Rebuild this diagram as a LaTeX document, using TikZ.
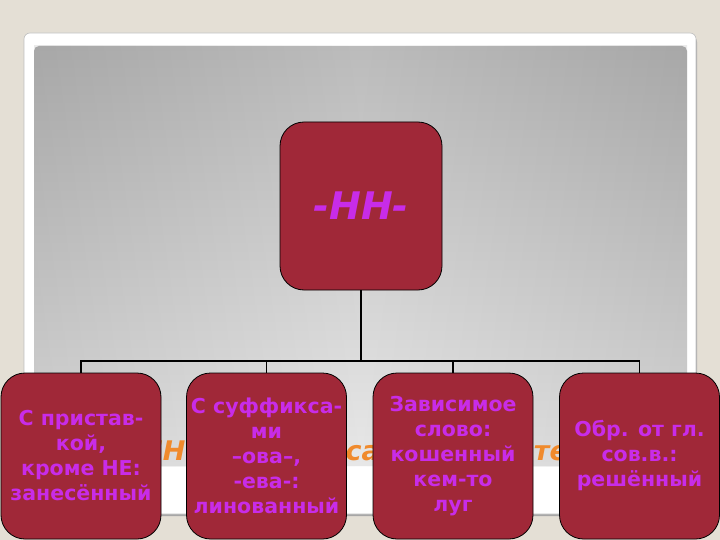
\documentclass[tikz,border=0pt]{standalone}
\usepackage{fontspec}
\setmainfont{DejaVu Sans}
\usetikzlibrary{positioning}
\definecolor{beige}{HTML}{E4DFD5}
\definecolor{maroon}{HTML}{A02838}
\definecolor{magtext}{HTML}{C82CE8}
\definecolor{ttlorange}{HTML}{F08A2C}
\definecolor{panelTop}{HTML}{B6B6B6}
\definecolor{panelBot}{HTML}{E6E6E6}
\tikzset{
  box/.style={draw=black, line width=0.8pt, fill=maroon, rounded corners=24pt,
    minimum width=160pt, minimum height=166pt, inner sep=0pt,
    text=magtext, align=center, font=\bfseries\fontsize{20.5}{25}\selectfont},
  topbox/.style={box, minimum width=162pt, minimum height=168pt,
    font=\bfseries\itshape\fontsize{38}{40}\selectfont},
  conn/.style={draw=black, line width=1.8pt},
}
\begin{document}
\begin{tikzpicture}[x=1pt,y=-1pt]
\useasboundingbox (0,0) rectangle (720,540);
% background
\fill[beige] (0,0) rectangle (720,540);
\fill[black!35] (25,36) [rounded corners=6pt] rectangle (697,516);
\fill[white, draw=black!25, line width=0.6pt] (24,33) [rounded corners=6pt] rectangle (696,514);
\shade[top color=panelTop, bottom color=panelBot] (34,466) [rounded corners=5pt] -- (34,46) -- (687,46) [sharp corners] -- (687,466) -- cycle;
\shade[left color=black, right color=black, middle color=white, opacity=0.08] (34,46) rectangle (687,466);
% hidden title
\node[anchor=base west, text=ttlorange, font=\bfseries\itshape\fontsize{27}{30}\selectfont, inner sep=0pt] (title) at (140,460) {НН в суффиксах прилагательных};
% boxes
\node[topbox] (top) at (361,206) {-НН-};
\node[box] (b1) at (81,456) {С пристав-\\кой,\\кроме НЕ:\\занесённый};
\node[box] (b2) at (266.5,456) {С суффикса-\\ми\\–ова–,\\-ева-:\\линованный};
\node[box] (b3) at (453,456) {Зависимое\\слово:\\кошенный\\кем-то\\луг};
\node[box] (b4) at (639.5,456) {Обр. от гл.\\сов.в.:\\решённый};
% connectors
\coordinate (bar) at (361,361);
\draw[conn] (top.south) -- (top.south |- bar);
\draw[conn] (b1.north) -- (b1.north |- bar) -- (b4.north |- bar) -- (b4.north);
\draw[conn] (b2.north) -- (b2.north |- bar);
\draw[conn] (b3.north) -- (b3.north |- bar);
\end{tikzpicture}
\end{document}
